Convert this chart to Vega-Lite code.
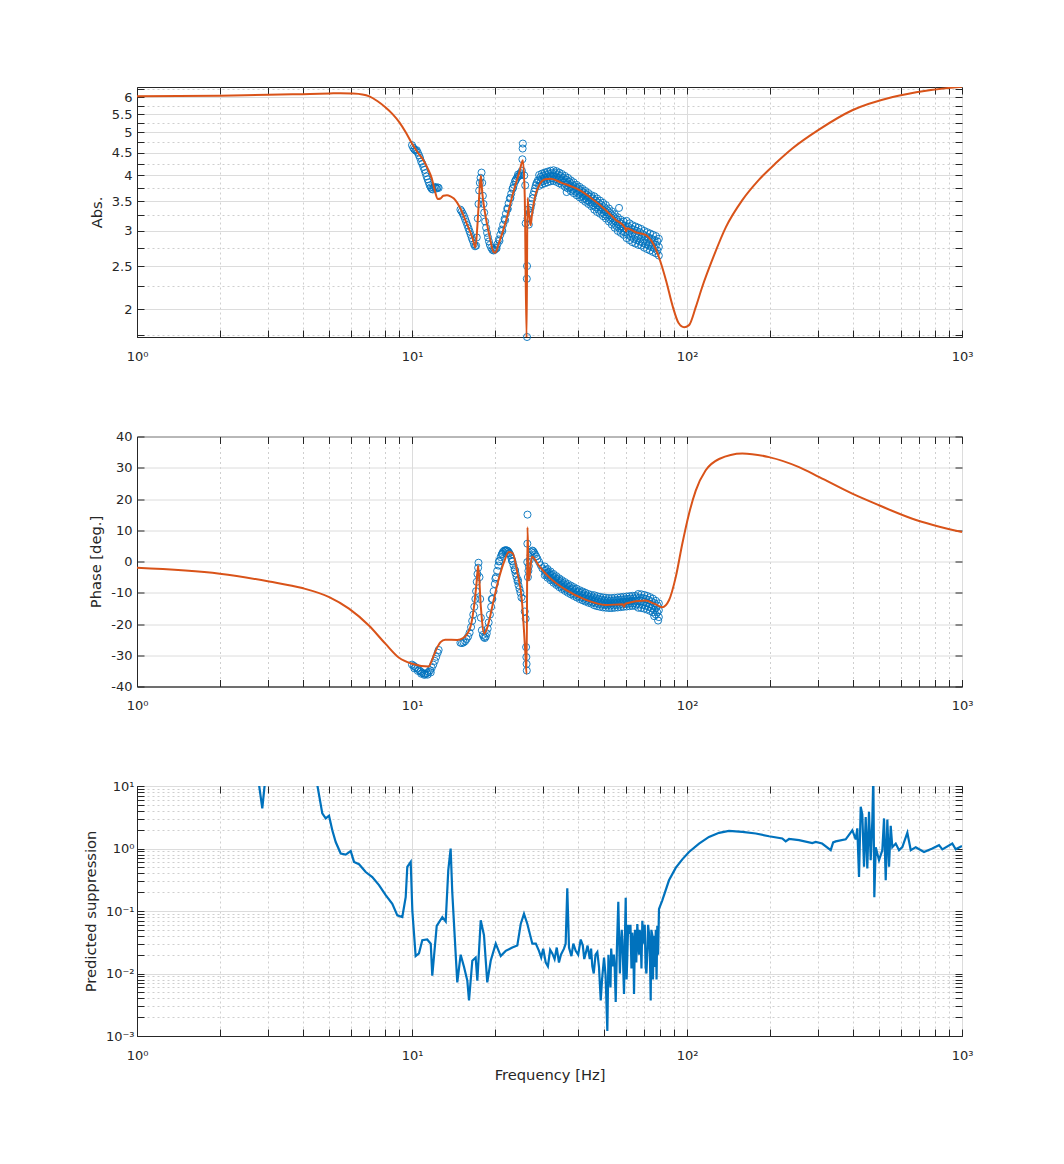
{
  "$schema": "https://vega.github.io/schema/vega-lite/v6.json",
  "padding": {"left": 82, "top": 82, "right": 10, "bottom": 10},
  "bounds": "flush",
  "spacing": 99.5,
  "config": {
    "font": "DejaVu Sans",
    "view": {"stroke": "#262626", "strokeWidth": 1},
    "axis": {
      "labelFont": "DejaVu Sans",
      "labelFontSize": 13,
      "labelColor": "#262626",
      "titleFont": "DejaVu Sans",
      "titleFontSize": 14.7,
      "titleFontWeight": "normal",
      "titleColor": "#262626",
      "domainColor": "#262626",
      "tickColor": "#262626",
      "tickSize": -7,
      "tickWidth": 1,
      "labelOverlap": false,
      "labelFlush": false
    }
  },
  "datasets": {
    "fitMag": [
      {"f":1,"v":6.03},{"f":2,"v":6.05},{"f":3,"v":6.08},{"f":4,"v":6.1},{"f":5,"v":6.12},{"f":5.5,"v":6.13},{"f":6,"v":6.12},{"f":6.6,"v":6.09},{"f":7,"v":6.03},{"f":7.5,"v":5.88},{"f":8,"v":5.7},{"f":8.5,"v":5.5},{"f":9,"v":5.27},{"f":9.5,"v":5.0},{"f":10,"v":4.72},{"f":10.5,"v":4.5},{"f":10.9,"v":4.37},{"f":11.4,"v":4.15},{"f":11.8,"v":3.94},{"f":12.1,"v":3.7},{"f":12.4,"v":3.54},{"f":12.7,"v":3.55},{"f":13.0,"v":3.6},{"f":13.4,"v":3.61},{"f":13.8,"v":3.59},{"f":14.2,"v":3.55},{"f":15.0,"v":3.37},{"f":15.9,"v":3.09},{"f":16.6,"v":2.89},{"f":17.0,"v":2.75},{"f":17.3,"v":3.1},{"f":17.5,"v":3.49},{"f":17.8,"v":4.0},{"f":18.0,"v":3.67},{"f":18.4,"v":3.31},{"f":19.1,"v":2.94},{"f":19.8,"v":2.69},{"f":20.1,"v":2.68},{"f":20.6,"v":2.79},{"f":21.9,"v":3.14},{"f":23.2,"v":3.61},{"f":24.6,"v":4.08},{"f":25.3,"v":4.33},{"f":25.7,"v":3.6},{"f":26.1,"v":1.72},{"f":26.3,"v":3.56},{"f":26.6,"v":3.3},{"f":27.0,"v":3.09},{"f":27.3,"v":3.26},{"f":28.1,"v":3.61},{"f":29.0,"v":3.8},{"f":30.5,"v":3.92},{"f":32,"v":3.93},{"f":35,"v":3.85},{"f":40.5,"v":3.71},{"f":45,"v":3.55},{"f":50.7,"v":3.34},{"f":55,"v":3.18},{"f":59.5,"v":3.05},{"f":60,"v":2.99},{"f":60.5,"v":3.04},{"f":65,"v":2.98},{"f":70.6,"v":2.94},{"f":75,"v":2.82},{"f":79,"v":2.62},{"f":83.9,"v":2.32},{"f":88.9,"v":2.02},{"f":93.2,"v":1.86},{"f":97.6,"v":1.82},{"f":101.7,"v":1.84},{"f":107.6,"v":2.02},{"f":113.5,"v":2.24},{"f":123.5,"v":2.58},{"f":138.5,"v":3.06},{"f":158.9,"v":3.52},{"f":182.5,"v":3.91},{"f":210,"v":4.26},{"f":241.5,"v":4.6},{"f":302.8,"v":5.08},{"f":399,"v":5.61},{"f":560,"v":6.01},{"f":740,"v":6.21},{"f":1000,"v":6.34}
    ],
    "measMag": [
      {"f":10.0,"v":4.68},{"f":10.1,"v":4.62},{"f":10.2,"v":4.58},{"f":10.3,"v":4.55},{"f":10.4,"v":4.56},{"f":10.5,"v":4.5},{"f":10.6,"v":4.44},{"f":10.7,"v":4.38},{"f":10.8,"v":4.3},{"f":10.9,"v":4.25},{"f":11.0,"v":4.18},{"f":11.1,"v":4.12},{"f":11.2,"v":4.05},{"f":11.3,"v":3.98},{"f":11.4,"v":3.92},{"f":11.5,"v":3.86},{"f":11.6,"v":3.8},{"f":11.7,"v":3.76},{"f":11.8,"v":3.73},{"f":11.9,"v":3.72},{"f":12.0,"v":3.75},{"f":12.1,"v":3.77},{"f":12.2,"v":3.75},{"f":12.3,"v":3.74},{"f":12.4,"v":3.76},{"f":12.5,"v":3.75},
      {"f":15.0,"v":3.35},{"f":15.15,"v":3.32},{"f":15.3,"v":3.28},{"f":15.45,"v":3.24},{"f":15.6,"v":3.19},{"f":15.75,"v":3.14},{"f":15.9,"v":3.09},{"f":16.05,"v":3.04},{"f":16.2,"v":2.99},{"f":16.35,"v":2.94},{"f":16.5,"v":2.89},{"f":16.65,"v":2.85},{"f":16.8,"v":2.8},{"f":16.95,"v":2.77},{"f":17.1,"v":2.78},{"f":17.2,"v":2.9},{"f":17.35,"v":3.2},{"f":17.45,"v":3.45},{"f":17.55,"v":3.7},{"f":17.65,"v":3.85},{"f":17.75,"v":3.95},{"f":17.9,"v":4.06},{"f":18.0,"v":3.85},{"f":18.1,"v":3.6},{"f":18.2,"v":3.45},{"f":18.3,"v":3.3},{"f":18.45,"v":3.15},{"f":18.6,"v":3.05},{"f":18.75,"v":2.97},{"f":18.9,"v":2.9},{"f":19.05,"v":2.84},{"f":19.2,"v":2.79},{"f":19.4,"v":2.75},{"f":19.6,"v":2.72},{"f":19.8,"v":2.71},{"f":20.0,"v":2.72},
      {"f":20.2,"v":2.75},{"f":20.45,"v":2.8},{"f":20.7,"v":2.87},{"f":20.95,"v":2.94},{"f":21.2,"v":3.02},{"f":21.45,"v":3.1},{"f":21.7,"v":3.19},{"f":21.95,"v":3.28},{"f":22.2,"v":3.37},{"f":22.45,"v":3.46},{"f":22.7,"v":3.55},{"f":22.95,"v":3.64},{"f":23.2,"v":3.73},{"f":23.45,"v":3.81},{"f":23.7,"v":3.88},{"f":23.95,"v":3.93},{"f":24.2,"v":3.97},{"f":24.45,"v":3.99},{"f":24.7,"v":4.0},{"f":24.95,"v":4.02},{"f":25.1,"v":4.1},{"f":25.2,"v":4.35},{"f":25.25,"v":4.6},{"f":25.3,"v":4.72},{"f":20.3,"v":2.74},{"f":20.8,"v":2.85},{"f":21.3,"v":3.0},{"f":21.8,"v":3.17},{"f":22.3,"v":3.36},{"f":22.8,"v":3.56},{"f":23.3,"v":3.75},{"f":23.8,"v":3.9},{"f":24.3,"v":4.02},{"f":24.8,"v":4.05},
      {"f":25.6,"v":4.0},{"f":25.8,"v":3.8},{"f":25.9,"v":3.12},{"f":26.2,"v":2.5},{"f":26.15,"v":2.34},{"f":26.2,"v":1.73},{"f":26.3,"v":3.2},{"f":26.4,"v":3.35},{"f":26.6,"v":3.1},{"f":26.8,"v":3.3},{"f":27.0,"v":3.38},{"f":27.2,"v":3.45},{"f":27.4,"v":3.55},{"f":27.6,"v":3.62},{"f":27.8,"v":3.68},{"f":28.0,"v":3.74},{"f":28.2,"v":3.8},{"f":28.4,"v":3.85},{"f":28.7,"v":3.9},
      {"f":29,"v":3.9},{"f":29,"v":4.01},{"f":29,"v":3.79},
      {"f":29.7,"v":3.93},{"f":29.7,"v":4.04},{"f":29.7,"v":3.82},
      {"f":30.4,"v":3.95},{"f":30.4,"v":4.06},{"f":30.4,"v":3.84},
      {"f":31.1,"v":3.97},{"f":31.1,"v":4.08},{"f":31.1,"v":3.86},
      {"f":31.9,"v":3.99},{"f":31.9,"v":4.1},{"f":31.9,"v":3.88},
      {"f":32.7,"v":4.0},{"f":32.7,"v":4.11},{"f":32.7,"v":3.89},
      {"f":33.5,"v":3.98},{"f":33.5,"v":4.09},{"f":33.5,"v":3.87},
      {"f":34.3,"v":3.95},{"f":34.3,"v":4.06},{"f":34.3,"v":3.84},
      {"f":35.1,"v":3.92},{"f":35.1,"v":4.03},{"f":35.1,"v":3.81},
      {"f":36,"v":3.88},{"f":36,"v":3.99},{"f":36,"v":3.77},
      {"f":36.9,"v":3.84},{"f":36.9,"v":3.95},{"f":36.9,"v":3.74},
      {"f":37.8,"v":3.79},{"f":37.8,"v":3.9},{"f":37.8,"v":3.69},
      {"f":38.7,"v":3.75},{"f":38.7,"v":3.86},{"f":38.7,"v":3.65},
      {"f":39.7,"v":3.71},{"f":39.7,"v":3.81},{"f":39.7,"v":3.61},
      {"f":40.7,"v":3.67},{"f":40.7,"v":3.77},{"f":40.7,"v":3.57},
      {"f":41.7,"v":3.63},{"f":41.7,"v":3.73},{"f":41.7,"v":3.53},
      {"f":42.7,"v":3.59},{"f":42.7,"v":3.69},{"f":42.7,"v":3.49},
      {"f":43.8,"v":3.55},{"f":43.8,"v":3.65},{"f":43.8,"v":3.45},
      {"f":44.9,"v":3.51},{"f":44.9,"v":3.61},{"f":44.9,"v":3.41},
      {"f":46,"v":3.47},{"f":46,"v":3.59},{"f":46,"v":3.35},
      {"f":47.1,"v":3.43},{"f":47.1,"v":3.55},{"f":47.1,"v":3.31},
      {"f":48.3,"v":3.39},{"f":48.3,"v":3.51},{"f":48.3,"v":3.28},
      {"f":49.5,"v":3.35},{"f":49.5,"v":3.47},{"f":49.5,"v":3.24},
      {"f":50.7,"v":3.31},{"f":50.7,"v":3.43},{"f":50.7,"v":3.2},
      {"f":52,"v":3.26},{"f":52,"v":3.37},{"f":52,"v":3.15},
      {"f":53.3,"v":3.21},{"f":53.3,"v":3.32},{"f":53.3,"v":3.1},
      {"f":54.6,"v":3.16},{"f":54.6,"v":3.27},{"f":54.6,"v":3.05},
      {"f":56,"v":3.11},{"f":56,"v":3.22},{"f":56,"v":3.0},
      {"f":57.4,"v":3.07},{"f":57.4,"v":3.18},{"f":57.4,"v":2.97},
      {"f":58.8,"v":3.04},{"f":58.8,"v":3.15},{"f":58.8,"v":2.94},
      {"f":60.3,"v":3.02},{"f":60.3,"v":3.16},{"f":60.3,"v":2.89},
      {"f":61.8,"v":2.99},{"f":61.8,"v":3.12},{"f":61.8,"v":2.86},
      {"f":63.3,"v":2.96},{"f":63.3,"v":3.09},{"f":63.3,"v":2.83},
      {"f":64.9,"v":2.94},{"f":64.9,"v":3.07},{"f":64.9,"v":2.81},
      {"f":66.5,"v":2.92},{"f":66.5,"v":3.05},{"f":66.5,"v":2.79},
      {"f":68.2,"v":2.9},{"f":68.2,"v":3.03},{"f":68.2,"v":2.78},
      {"f":69.9,"v":2.87},{"f":69.9,"v":3.0},{"f":69.9,"v":2.75},
      {"f":71.6,"v":2.85},{"f":71.6,"v":2.98},{"f":71.6,"v":2.73},
      {"f":73.4,"v":2.83},{"f":73.4,"v":2.96},{"f":73.4,"v":2.71},
      {"f":75.2,"v":2.81},{"f":75.2,"v":2.94},{"f":75.2,"v":2.69},
      {"f":77.1,"v":2.79},{"f":77.1,"v":2.92},{"f":77.1,"v":2.67},
      {"f":79,"v":2.76},{"f":79,"v":2.88},{"f":79,"v":2.64},
      {"f":29.35,"v":3.97},{"f":29.35,"v":3.86},{"f":30.05,"v":4.0},{"f":30.05,"v":3.89},{"f":30.75,"v":4.02},{"f":30.75,"v":3.91},{"f":31.5,"v":4.04},{"f":31.5,"v":3.93},{"f":32.3,"v":4.05},{"f":32.3,"v":3.94},{"f":33.1,"v":4.05},{"f":33.1,"v":3.93},{"f":33.9,"v":4.02},{"f":33.9,"v":3.91},{"f":34.7,"v":3.99},{"f":34.7,"v":3.88},{"f":35.55,"v":3.95},{"f":35.55,"v":3.85},{"f":36.45,"v":3.91},{"f":36.45,"v":3.81},{"f":37.35,"v":3.87},{"f":37.35,"v":3.76},{"f":38.25,"v":3.82},{"f":38.25,"v":3.72},{"f":39.2,"v":3.78},{"f":39.2,"v":3.68},{"f":40.2,"v":3.74},{"f":40.2,"v":3.64},{"f":41.2,"v":3.7},{"f":41.2,"v":3.6},{"f":42.2,"v":3.66},{"f":42.2,"v":3.56},{"f":43.25,"v":3.62},{"f":43.25,"v":3.52},{"f":44.35,"v":3.58},{"f":44.35,"v":3.48},{"f":45.45,"v":3.55},{"f":45.45,"v":3.43},{"f":46.55,"v":3.51},{"f":46.55,"v":3.39},{"f":47.7,"v":3.47},{"f":47.7,"v":3.35},{"f":48.9,"v":3.43},{"f":48.9,"v":3.31},{"f":50.1,"v":3.39},{"f":50.1,"v":3.27},{"f":51.35,"v":3.34},{"f":51.35,"v":3.23},{"f":52.65,"v":3.29},{"f":52.65,"v":3.18},{"f":53.95,"v":3.24},{"f":53.95,"v":3.13},{"f":55.3,"v":3.19},{"f":55.3,"v":3.08},{"f":56.7,"v":3.14},{"f":56.7,"v":3.04},{"f":58.1,"v":3.11},{"f":58.1,"v":3.0},{"f":59.55,"v":3.08},{"f":59.55,"v":2.98},{"f":61.05,"v":3.07},{"f":61.05,"v":2.94},{"f":62.55,"v":3.04},{"f":62.55,"v":2.91},{"f":64.1,"v":3.02},{"f":64.1,"v":2.88},{"f":65.7,"v":3.0},{"f":65.7,"v":2.86},{"f":67.35,"v":2.98},{"f":67.35,"v":2.84},{"f":69.05,"v":2.95},{"f":69.05,"v":2.82},{"f":70.75,"v":2.92},{"f":70.75,"v":2.8},{"f":72.5,"v":2.9},{"f":72.5,"v":2.78},{"f":74.3,"v":2.88},{"f":74.3,"v":2.76},{"f":76.15,"v":2.86},{"f":76.15,"v":2.74},{"f":78.05,"v":2.84},{"f":78.05,"v":2.71},
      {"f":36.5,"v":3.67},{"f":56.6,"v":3.38}
    ],
    "fitPh": [
      {"f":1,"v":-2.0},{"f":2,"v":-3.9},{"f":3.02,"v":-6.4},{"f":3.99,"v":-8.5},{"f":5.0,"v":-11.4},{"f":5.9,"v":-15.1},{"f":6.97,"v":-20.5},{"f":8.0,"v":-26.3},{"f":8.97,"v":-30.8},{"f":10,"v":-32.7},{"f":11.5,"v":-33.6},{"f":11.8,"v":-31.7},{"f":12.2,"v":-28.5},{"f":12.7,"v":-25.8},{"f":13.2,"v":-25},{"f":14.6,"v":-25.1},{"f":15.4,"v":-24.4},{"f":16.3,"v":-21},{"f":16.8,"v":-14.6},{"f":17.2,"v":-6.1},{"f":17.4,"v":-1.3},{"f":17.8,"v":-14.6},{"f":18.3,"v":-23.1},{"f":18.8,"v":-21},{"f":19.8,"v":-12.5},{"f":20.6,"v":-6.1},{"f":21.6,"v":-0.2},{"f":22.5,"v":3.0},{"f":23.2,"v":2.7},{"f":24.2,"v":-3.9},{"f":25.1,"v":-12.5},{"f":25.8,"v":-28.5},{"f":26.1,"v":-36},{"f":26.3,"v":11},{"f":26.6,"v":-6.1},{"f":27.3,"v":1.6},{"f":29,"v":-1.5},{"f":31.5,"v":-5},{"f":36.3,"v":-9.1},{"f":42.9,"v":-12.3},{"f":50.7,"v":-13.9},{"f":58.4,"v":-13.7},{"f":59,"v":-14.5},{"f":59.6,"v":-13.5},{"f":70.6,"v":-12.5},{"f":76,"v":-13.5},{"f":81.3,"v":-14.6},{"f":86,"v":-12.4},{"f":91,"v":-5.0},{"f":96.1,"v":5.6},{"f":101.7,"v":15.3},{"f":107.6,"v":22.7},{"f":116.8,"v":29.1},{"f":130.8,"v":32.8},{"f":158.9,"v":34.6},{"f":198.7,"v":33.4},{"f":255.5,"v":30.2},{"f":302.8,"v":27.0},{"f":399,"v":21.7},{"f":499,"v":18.0},{"f":660,"v":13.7},{"f":1000,"v":9.4}
    ],
    "measPh": [
      {"f":10.0,"v":-33},{"f":10.15,"v":-33.4},{"f":10.3,"v":-33.8},{"f":10.45,"v":-34.2},{"f":10.6,"v":-34.7},{"f":10.75,"v":-35.2},{"f":10.9,"v":-35.6},{"f":11.05,"v":-35.9},{"f":11.2,"v":-36},{"f":11.35,"v":-35.7},{"f":11.5,"v":-35.3},{"f":11.65,"v":-34.8},{"f":11.8,"v":-34},{"f":11.95,"v":-33},{"f":12.1,"v":-31.8},{"f":12.25,"v":-30.5},{"f":12.4,"v":-29.2},{"f":12.5,"v":-28.3},{"f":10.2,"v":-34.2},{"f":10.5,"v":-35},{"f":10.8,"v":-35.9},{"f":11.1,"v":-36.3},{"f":11.4,"v":-36.2},{"f":11.7,"v":-35.5},
      {"f":15.0,"v":-26},{"f":15.2,"v":-26.1},{"f":15.4,"v":-25.9},{"f":15.6,"v":-25.5},{"f":15.8,"v":-24.8},{"f":16.0,"v":-24},{"f":16.2,"v":-22.8},{"f":16.4,"v":-21},{"f":16.55,"v":-19},{"f":16.7,"v":-17},{"f":16.85,"v":-14.5},{"f":17.0,"v":-12},{"f":17.1,"v":-9.5},{"f":17.2,"v":-6.5},{"f":17.3,"v":-4},{"f":17.4,"v":-2},{"f":17.45,"v":-0.4},{"f":17.6,"v":-5},{"f":17.7,"v":-12},{"f":17.8,"v":-18},{"f":17.95,"v":-22},{"f":18.1,"v":-23.5},{"f":18.25,"v":-24.2},{"f":18.4,"v":-24.5},{"f":18.55,"v":-24},{"f":18.7,"v":-23},{"f":18.85,"v":-21.5},
      {"f":19.0,"v":-19.5},{"f":19.2,"v":-17},{"f":19.4,"v":-14.5},{"f":19.6,"v":-12},{"f":19.8,"v":-9.5},{"f":20.0,"v":-7.2},{"f":20.2,"v":-5},{"f":20.4,"v":-3},{"f":20.6,"v":-1.3},{"f":20.8,"v":0.2},{"f":21.0,"v":1.4},{"f":21.2,"v":2.3},{"f":21.4,"v":3},{"f":21.6,"v":3.4},{"f":21.8,"v":3.6},{"f":22.0,"v":3.6},{"f":22.2,"v":3.5},{"f":22.4,"v":3.2},{"f":22.6,"v":2.7},{"f":22.8,"v":2.0},{"f":23.0,"v":1.0},{"f":23.2,"v":0.0},{"f":23.4,"v":-1.2},{"f":23.6,"v":-2.5},{"f":23.8,"v":-3.8},{"f":24.0,"v":-5},{"f":24.2,"v":-6.3},{"f":24.4,"v":-7.6},{"f":24.6,"v":-8.8},{"f":24.8,"v":-10},{"f":25.0,"v":-11.5},{"f":19.5,"v":-12},{"f":20.1,"v":-5.5},{"f":20.7,"v":0},{"f":21.3,"v":2.5},{"f":21.9,"v":3.3},{"f":22.5,"v":2.6},{"f":23.1,"v":0.2},{"f":23.7,"v":-2.8},{"f":24.3,"v":-6},
      {"f":25.4,"v":-12},{"f":25.7,"v":-16},{"f":25.9,"v":-18.3},{"f":26.0,"v":-27.4},{"f":26.05,"v":-30.6},{"f":26.1,"v":-32.8},{"f":26.15,"v":-34.9},{"f":26.25,"v":-0.2},{"f":26.27,"v":5.7},{"f":26.3,"v":15.0},{"f":26.4,"v":-5},{"f":26.5,"v":-3},{"f":26.6,"v":-1.5},{"f":26.8,"v":0.5},{"f":27.0,"v":2.0},{"f":27.2,"v":3.0},{"f":27.4,"v":3.5},{"f":27.6,"v":3.3},{"f":27.8,"v":2.8},{"f":28.0,"v":2.3},{"f":28.3,"v":1.6},{"f":28.6,"v":0.8},{"f":29.0,"v":-0.2},{"f":29.4,"v":-1.2},{"f":29.8,"v":-2.2},
      {"f":30.4,"v":-3.0},{"f":30.4,"v":-1.6},{"f":30.4,"v":-4.4},
      {"f":31.1,"v":-3.8},{"f":31.1,"v":-2.4},{"f":31.1,"v":-5.2},
      {"f":31.9,"v":-4.6},{"f":31.9,"v":-3.2},{"f":31.9,"v":-6.0},
      {"f":32.7,"v":-5.4},{"f":32.7,"v":-4.0},{"f":32.7,"v":-6.8},
      {"f":33.5,"v":-6.1},{"f":33.5,"v":-4.7},{"f":33.5,"v":-7.5},
      {"f":34.3,"v":-6.8},{"f":34.3,"v":-5.4},{"f":34.3,"v":-8.2},
      {"f":35.1,"v":-7.4},{"f":35.1,"v":-6.0},{"f":35.1,"v":-8.8},
      {"f":36,"v":-8.0},{"f":36,"v":-6.6},{"f":36,"v":-9.4},
      {"f":36.9,"v":-8.6},{"f":36.9,"v":-7.2},{"f":36.9,"v":-10.0},
      {"f":37.8,"v":-9.1},{"f":37.8,"v":-7.7},{"f":37.8,"v":-10.5},
      {"f":38.7,"v":-9.6},{"f":38.7,"v":-8.2},{"f":38.7,"v":-11.0},
      {"f":39.7,"v":-10.1},{"f":39.7,"v":-8.7},{"f":39.7,"v":-11.5},
      {"f":40.7,"v":-10.6},{"f":40.7,"v":-9.2},{"f":40.7,"v":-12.0},
      {"f":41.7,"v":-11.0},{"f":41.7,"v":-9.6},{"f":41.7,"v":-12.4},
      {"f":42.7,"v":-11.4},{"f":42.7,"v":-10.0},{"f":42.7,"v":-12.8},
      {"f":43.8,"v":-11.8},{"f":43.8,"v":-10.4},{"f":43.8,"v":-13.2},
      {"f":44.9,"v":-12.1},{"f":44.9,"v":-10.7},{"f":44.9,"v":-13.5},
      {"f":46,"v":-12.4},{"f":46,"v":-10.8},{"f":46,"v":-14.0},
      {"f":47.1,"v":-12.7},{"f":47.1,"v":-11.1},{"f":47.1,"v":-14.3},
      {"f":48.3,"v":-12.9},{"f":48.3,"v":-11.3},{"f":48.3,"v":-14.5},
      {"f":49.5,"v":-13.1},{"f":49.5,"v":-11.5},{"f":49.5,"v":-14.7},
      {"f":50.7,"v":-13.2},{"f":50.7,"v":-11.6},{"f":50.7,"v":-14.8},
      {"f":52,"v":-13.3},{"f":52,"v":-11.7},{"f":52,"v":-14.9},
      {"f":53.3,"v":-13.3},{"f":53.3,"v":-11.7},{"f":53.3,"v":-14.9},
      {"f":54.6,"v":-13.2},{"f":54.6,"v":-11.6},{"f":54.6,"v":-14.8},
      {"f":56,"v":-13.1},{"f":56,"v":-11.5},{"f":56,"v":-14.7},
      {"f":57.4,"v":-13.0},{"f":57.4,"v":-11.4},{"f":57.4,"v":-14.6},
      {"f":58.8,"v":-12.9},{"f":58.8,"v":-11.3},{"f":58.8,"v":-14.5},
      {"f":60.3,"v":-12.8},{"f":60.3,"v":-11.2},{"f":60.3,"v":-14.4},
      {"f":61.8,"v":-12.7},{"f":61.8,"v":-11.1},{"f":61.8,"v":-14.3},
      {"f":63.3,"v":-12.6},{"f":63.3,"v":-11.0},{"f":63.3,"v":-14.2},
      {"f":64.9,"v":-12.6},{"f":64.9,"v":-11.0},{"f":64.9,"v":-14.2},
      {"f":66.5,"v":-12.6},{"f":66.5,"v":-10.4},{"f":66.5,"v":-14.8},
      {"f":68.2,"v":-12.7},{"f":68.2,"v":-10.5},{"f":68.2,"v":-14.9},
      {"f":69.9,"v":-12.9},{"f":69.9,"v":-10.7},{"f":69.9,"v":-15.1},
      {"f":71.6,"v":-13.2},{"f":71.6,"v":-11.0},{"f":71.6,"v":-15.4},
      {"f":73.4,"v":-13.6},{"f":73.4,"v":-11.4},{"f":73.4,"v":-15.8},
      {"f":75.2,"v":-14.1},{"f":75.2,"v":-11.9},{"f":75.2,"v":-16.3},
      {"f":77.1,"v":-14.8},{"f":77.1,"v":-12.6},{"f":77.1,"v":-17.0},
      {"f":79,"v":-15.6},{"f":79,"v":-13.4},{"f":79,"v":-17.8},
      {"f":30.75,"v":-2.7},{"f":30.75,"v":-4.1},{"f":31.5,"v":-3.5},{"f":31.5,"v":-4.9},{"f":32.3,"v":-4.3},{"f":32.3,"v":-5.7},{"f":33.1,"v":-5.05},{"f":33.1,"v":-6.45},{"f":33.9,"v":-5.75},{"f":33.9,"v":-7.15},{"f":34.7,"v":-6.4},{"f":34.7,"v":-7.8},{"f":35.55,"v":-7.0},{"f":35.55,"v":-8.4},{"f":36.45,"v":-7.6},{"f":36.45,"v":-9.0},{"f":37.35,"v":-8.15},{"f":37.35,"v":-9.55},{"f":38.25,"v":-8.65},{"f":38.25,"v":-10.05},{"f":39.2,"v":-9.15},{"f":39.2,"v":-10.55},{"f":40.2,"v":-9.65},{"f":40.2,"v":-11.05},{"f":41.2,"v":-10.1},{"f":41.2,"v":-11.5},{"f":42.2,"v":-10.5},{"f":42.2,"v":-11.9},{"f":43.25,"v":-10.9},{"f":43.25,"v":-12.3},{"f":44.35,"v":-11.25},{"f":44.35,"v":-12.65},{"f":45.45,"v":-11.45},{"f":45.45,"v":-13.05},{"f":46.55,"v":-11.75},{"f":46.55,"v":-13.35},{"f":47.7,"v":-12.0},{"f":47.7,"v":-13.6},{"f":48.9,"v":-12.2},{"f":48.9,"v":-13.8},{"f":50.1,"v":-12.35},{"f":50.1,"v":-13.95},{"f":51.35,"v":-12.45},{"f":51.35,"v":-14.05},{"f":52.65,"v":-12.5},{"f":52.65,"v":-14.1},{"f":53.95,"v":-12.45},{"f":53.95,"v":-14.05},{"f":55.3,"v":-12.35},{"f":55.3,"v":-13.95},{"f":56.7,"v":-12.25},{"f":56.7,"v":-13.85},{"f":58.1,"v":-12.15},{"f":58.1,"v":-13.75},{"f":59.55,"v":-12.05},{"f":59.55,"v":-13.65},{"f":61.05,"v":-11.95},{"f":61.05,"v":-13.55},{"f":62.55,"v":-11.85},{"f":62.55,"v":-13.45},{"f":64.1,"v":-11.8},{"f":64.1,"v":-13.4},{"f":65.7,"v":-11.5},{"f":65.7,"v":-13.7},{"f":67.35,"v":-11.55},{"f":67.35,"v":-13.75},{"f":69.05,"v":-11.7},{"f":69.05,"v":-13.9},{"f":70.75,"v":-11.95},{"f":70.75,"v":-14.15},{"f":72.5,"v":-12.3},{"f":72.5,"v":-14.5},{"f":74.3,"v":-12.75},{"f":74.3,"v":-14.95},{"f":76.15,"v":-13.35},{"f":76.15,"v":-15.55},{"f":78.05,"v":-14.1},{"f":78.05,"v":-16.3},
      {"f":78.5,"v":-18.9},{"f":76,"v":-17.5}
    ],
    "supp": [
      {"f":2.7,"v":20},{"f":2.778,"v":10.5},{"f":2.855,"v":4.4},{"f":2.913,"v":10.5},{"f":3.0,"v":25},{"f":3.5,"v":40},{"f":4.0,"v":30},{"f":4.4,"v":15},{"f":4.525,"v":10.4},{"f":4.718,"v":3.64},{"f":4.856,"v":3.03},{"f":4.992,"v":3.34},{"f":5.131,"v":1.96},{"f":5.279,"v":1.27},{"f":5.505,"v":0.83},{"f":5.741,"v":0.8},{"f":5.986,"v":0.91},{"f":6.154,"v":0.61},{"f":6.418,"v":0.56},{"f":6.786,"v":0.42},{"f":7.171,"v":0.35},{"f":7.586,"v":0.26},{"f":8.024,"v":0.18},{"f":8.48,"v":0.13},{"f":8.843,"v":0.085},{"f":9.22,"v":0.08},{"f":9.486,"v":0.166},{"f":9.614,"v":0.51},{"f":9.892,"v":0.61},{"f":10.03,"v":0.1},{"f":10.31,"v":0.019},{"f":10.6,"v":0.021},{"f":10.9,"v":0.034},{"f":11.36,"v":0.035},{"f":11.7,"v":0.03},{"f":11.85,"v":0.0092},{"f":12.3,"v":0.058},{"f":12.89,"v":0.08},{"f":13.26,"v":0.068},{"f":13.55,"v":0.45},{"f":13.82,"v":1.0},{"f":14.01,"v":0.2},{"f":14.41,"v":0.021},{"f":14.61,"v":0.0072},{"f":15.03,"v":0.02},{"f":15.46,"v":0.0127},{"f":15.89,"v":0.0077},{"f":16.12,"v":0.0037},{"f":16.57,"v":0.016},{"f":17.04,"v":0.018},{"f":17.28,"v":0.0077},{"f":17.78,"v":0.071},{"f":18.27,"v":0.041},{"f":18.78,"v":0.0072},{"f":19.33,"v":0.016},{"f":20.16,"v":0.03},{"f":21.02,"v":0.019},{"f":21.91,"v":0.023},{"f":23.16,"v":0.026},{"f":24.15,"v":0.028},{"f":24.85,"v":0.062},{"f":25.54,"v":0.09},{"f":26.27,"v":0.062},{"f":27.39,"v":0.03},{"f":28.2,"v":0.03},{"f":28.95,"v":0.023},{"f":29.5,"v":0.018},{"f":30.0,"v":0.025},{"f":30.63,"v":0.015},{"f":31.2,"v":0.013},{"f":31.8,"v":0.024},{"f":32.37,"v":0.021},{"f":33.0,"v":0.017},{"f":33.6,"v":0.026},{"f":34.23,"v":0.015},{"f":34.8,"v":0.02},{"f":35.7,"v":0.025},{"f":36.2,"v":0.03},{"f":36.7,"v":0.23},{"f":37.23,"v":0.026},{"f":38.0,"v":0.019},{"f":38.6,"v":0.03},{"f":39.38,"v":0.023},{"f":40.2,"v":0.02},{"f":41.07,"v":0.035},{"f":41.8,"v":0.028},{"f":42.3,"v":0.017},{"f":42.82,"v":0.021},{"f":43.5,"v":0.028},{"f":44.3,"v":0.017},{"f":44.8,"v":0.025},{"f":45.26,"v":0.013},{"f":45.8,"v":0.01},{"f":46.5,"v":0.02},{"f":47.2,"v":0.022},{"f":47.86,"v":0.0127},{"f":48.56,"v":0.0037},{"f":49.1,"v":0.008},{"f":49.92,"v":0.018},{"f":50.6,"v":0.009},{"f":51.32,"v":0.0012},{"f":51.8,"v":0.02},{"f":52.05,"v":0.0127},{"f":52.7,"v":0.006},{"f":53.0,"v":0.025},{"f":53.51,"v":0.013},{"f":54.2,"v":0.02},{"f":54.6,"v":0.012},{"f":55.05,"v":0.0035},{"f":55.6,"v":0.025},{"f":56.26,"v":0.14},{"f":57.0,"v":0.01},{"f":57.41,"v":0.026},{"f":57.9,"v":0.05},{"f":58.2,"v":0.035},{"f":59.02,"v":0.0047},{"f":59.4,"v":0.03},{"f":59.86,"v":0.163},{"f":60.3,"v":0.008},{"f":60.7,"v":0.02},{"f":61.1,"v":0.06},{"f":61.54,"v":0.043},{"f":62.3,"v":0.06},{"f":62.8,"v":0.012},{"f":63.26,"v":0.045},{"f":63.8,"v":0.03},{"f":64.17,"v":0.0047},{"f":64.7,"v":0.05},{"f":65.4,"v":0.015},{"f":65.96,"v":0.062},{"f":66.9,"v":0.02},{"f":67.3,"v":0.05},{"f":67.86,"v":0.034},{"f":68.3,"v":0.012},{"f":68.8,"v":0.07},{"f":69.3,"v":0.03},{"f":69.76,"v":0.055},{"f":70.2,"v":0.06},{"f":70.7,"v":0.013},{"f":71.2,"v":0.01},{"f":71.71,"v":0.021},{"f":72.2,"v":0.06},{"f":72.7,"v":0.045},{"f":73.3,"v":0.02},{"f":73.79,"v":0.0037},{"f":74.2,"v":0.05},{"f":74.78,"v":0.041},{"f":75.2,"v":0.008},{"f":75.6,"v":0.03},{"f":76.0,"v":0.04},{"f":76.48,"v":0.0127},{"f":77.0,"v":0.05},{"f":77.5,"v":0.008},{"f":77.98,"v":0.058},{"f":78.5,"v":0.02},{"f":79.1,"v":0.108},{"f":81.32,"v":0.148},{"f":86.0,"v":0.31},{"f":90.97,"v":0.49},{"f":96.14,"v":0.67},{"f":101.7,"v":0.88},{"f":110.6,"v":1.2},{"f":120.2,"v":1.53},{"f":130.8,"v":1.78},{"f":142.1,"v":1.91},{"f":158.9,"v":1.85},{"f":177.8,"v":1.74},{"f":198.7,"v":1.57},{"f":222.1,"v":1.45},{"f":228.5,"v":1.3},{"f":235,"v":1.42},{"f":255.5,"v":1.36},{"f":285.5,"v":1.22},{"f":293.8,"v":1.27},{"f":310,"v":1.2},{"f":333.1,"v":0.94},{"f":340,"v":1.25},{"f":347.4,"v":1.3},{"f":377.7,"v":1.4},{"f":399.2,"v":1.96},{"f":410.7,"v":1.4},{"f":416.2,"v":2.1},{"f":422.2,"v":0.35},{"f":428.2,"v":4.65},{"f":434.0,"v":3.5},{"f":440.2,"v":0.51},{"f":446.5,"v":3.2},{"f":452.5,"v":0.48},{"f":459.0,"v":3.86},{"f":465.6,"v":0.65},{"f":471.9,"v":2.8},{"f":475.9,"v":15},{"f":479.9,"v":0.166},{"f":485.6,"v":1.05},{"f":499.2,"v":0.65},{"f":513.2,"v":0.94},{"f":520.6,"v":3.03},{"f":528.0,"v":0.31},{"f":535.2,"v":2.9},{"f":542.8,"v":0.51},{"f":550.6,"v":2.3},{"f":558.0,"v":1.05},{"f":574.2,"v":1.2},{"f":590.3,"v":0.94},{"f":606.8,"v":1.05},{"f":632.8,"v":1.79},{"f":651.1,"v":0.94},{"f":678.8,"v":1.05},{"f":727.6,"v":0.88},{"f":779.8,"v":1.0},{"f":825.0,"v":1.13},{"f":848.1,"v":0.97},{"f":921.9,"v":1.2},{"f":948.6,"v":0.97},{"f":1000,"v":1.1}
    ]
  },
  "vconcat": [
    {
      "width": 825,
      "height": 250,
      "layer": [
        {
          "data": {"name": "measMag"},
          "mark": {"type": "point", "shape": "circle", "filled": false, "color": "#0072BD", "size": 50, "strokeWidth": 0.9, "opacity": 1},
          "encoding": {
            "x": {
              "field": "f", "type": "quantitative",
              "scale": {"type": "log", "domain": [1, 1000], "nice": false},
              "axis": {
                "orient": "bottom", "title": null,
                "values": [1,2,3,4,5,6,7,8,9,10,20,30,40,50,60,70,80,90,100,200,300,400,500,600,700,800,900,1000],
                "labelExpr": "datum.value == 1 ? '10⁰' : datum.value == 10 ? '10¹' : datum.value == 100 ? '10²' : datum.value == 1000 ? '10³' : ''",
                "labelPadding": 20,
                "grid": true,
                "gridColor": {"condition": {"test": "indexof([1,10,100,1000], datum.value) >= 0", "value": "#dcdcdc"}, "value": "#cfcfcf"},
                "gridDash": {"condition": {"test": "indexof([1,10,100,1000], datum.value) >= 0", "value": []}, "value": [2, 3]}
              }
            },
            "y": {
              "field": "v", "type": "quantitative",
              "scale": {"type": "log", "domain": [1.73, 6.33], "nice": false},
              "axis": {
                "title": "Abs.",
                "values": [1.75,2,2.25,2.5,2.75,3,3.25,3.5,3.75,4,4.25,4.5,4.75,5,5.25,5.5,5.75,6,6.25],
                "labelExpr": "datum.value % 0.5 == 0 ? '' + datum.value : ''",
                "labelPadding": 12,
                "titlePadding": 7,
                "grid": true,
                "gridColor": {"condition": {"test": "datum.value % 0.5 == 0", "value": "#dcdcdc"}, "value": "#cfcfcf"},
                "gridDash": {"condition": {"test": "datum.value % 0.5 == 0", "value": []}, "value": [2, 3]}
              }
            }
          }
        },
        {
          "data": {"name": "fitMag"},
          "mark": {"type": "line", "color": "#D95319", "strokeWidth": 2, "clip": true, "interpolate": "monotone"},
          "encoding": {
            "x": {"field": "f", "type": "quantitative", "scale": {"type": "log"}, "axis": null},
            "y": {"field": "v", "type": "quantitative", "scale": {"type": "log"}, "axis": null}
          }
        },
        {
          "data": {"name": "fitMag"},
          "mark": {"type": "point", "opacity": 0},
          "encoding": {
            "x": {
              "field": "f", "type": "quantitative", "scale": {"type": "log"},
              "axis": {"orient": "top", "title": null, "labels": false, "grid": false, "domain": false,
                "values": [1,2,3,4,5,6,7,8,9,10,20,30,40,50,60,70,80,90,100,200,300,400,500,600,700,800,900,1000]}
            },
            "y": {
              "field": "v", "type": "quantitative", "scale": {"type": "log"},
              "axis": {"orient": "right", "title": null, "labels": false, "grid": false, "domain": false,
                "values": [1.75,2,2.25,2.5,2.75,3,3.25,3.5,3.75,4,4.25,4.5,4.75,5,5.25,5.5,5.75,6,6.25]}
            }
          }
        }
      ],
      "resolve": {"axis": {"x": "independent", "y": "independent"}}
    },
    {
      "width": 825,
      "height": 250,
      "layer": [
        {
          "data": {"name": "measPh"},
          "mark": {"type": "point", "shape": "circle", "filled": false, "color": "#0072BD", "size": 50, "strokeWidth": 0.9, "opacity": 1},
          "encoding": {
            "x": {
              "field": "f", "type": "quantitative",
              "scale": {"type": "log", "domain": [1, 1000], "nice": false},
              "axis": {
                "orient": "bottom", "title": null,
                "values": [1,2,3,4,5,6,7,8,9,10,20,30,40,50,60,70,80,90,100,200,300,400,500,600,700,800,900,1000],
                "labelExpr": "datum.value == 1 ? '10⁰' : datum.value == 10 ? '10¹' : datum.value == 100 ? '10²' : datum.value == 1000 ? '10³' : ''",
                "labelPadding": 20,
                "grid": true,
                "gridColor": {"condition": {"test": "indexof([1,10,100,1000], datum.value) >= 0", "value": "#dcdcdc"}, "value": "#cfcfcf"},
                "gridDash": {"condition": {"test": "indexof([1,10,100,1000], datum.value) >= 0", "value": []}, "value": [2, 3]}
              }
            },
            "y": {
              "field": "v", "type": "quantitative",
              "scale": {"domain": [-40, 40], "nice": false, "zero": false},
              "axis": {
                "title": "Phase [deg.]",
                "values": [-40,-30,-20,-10,0,10,20,30,40],
                "labelExpr": "'' + datum.value",
                "labelPadding": 12,
                "titlePadding": 7,
                "grid": true,
                "gridColor": "#dcdcdc"
              }
            }
          }
        },
        {
          "data": {"name": "fitPh"},
          "mark": {"type": "line", "color": "#D95319", "strokeWidth": 2, "clip": true, "interpolate": "monotone"},
          "encoding": {
            "x": {"field": "f", "type": "quantitative", "scale": {"type": "log"}, "axis": null},
            "y": {"field": "v", "type": "quantitative", "axis": null}
          }
        },
        {
          "data": {"name": "fitPh"},
          "mark": {"type": "point", "opacity": 0},
          "encoding": {
            "x": {
              "field": "f", "type": "quantitative", "scale": {"type": "log"},
              "axis": {"orient": "top", "title": null, "labels": false, "grid": false, "domain": false,
                "values": [1,2,3,4,5,6,7,8,9,10,20,30,40,50,60,70,80,90,100,200,300,400,500,600,700,800,900,1000]}
            },
            "y": {
              "field": "v", "type": "quantitative",
              "axis": {"orient": "right", "title": null, "labels": false, "grid": false, "domain": false,
                "values": [-40,-30,-20,-10,0,10,20,30,40]}
            }
          }
        }
      ],
      "resolve": {"axis": {"x": "independent", "y": "independent"}}
    },
    {
      "width": 825,
      "height": 250,
      "layer": [
        {
          "data": {"name": "supp"},
          "mark": {"type": "line", "color": "#0072BD", "strokeWidth": 2.2, "clip": true},
          "encoding": {
            "x": {
              "field": "f", "type": "quantitative",
              "scale": {"type": "log", "domain": [1, 1000], "nice": false},
              "axis": {
                "orient": "bottom", "title": "Frequency [Hz]", "titlePadding": 5,
                "values": [1,2,3,4,5,6,7,8,9,10,20,30,40,50,60,70,80,90,100,200,300,400,500,600,700,800,900,1000],
                "labelExpr": "datum.value == 1 ? '10⁰' : datum.value == 10 ? '10¹' : datum.value == 100 ? '10²' : datum.value == 1000 ? '10³' : ''",
                "labelPadding": 20,
                "grid": true,
                "gridColor": {"condition": {"test": "indexof([1,10,100,1000], datum.value) >= 0", "value": "#dcdcdc"}, "value": "#cfcfcf"},
                "gridDash": {"condition": {"test": "indexof([1,10,100,1000], datum.value) >= 0", "value": []}, "value": [2, 3]}
              }
            },
            "y": {
              "field": "v", "type": "quantitative",
              "scale": {"type": "log", "domain": [0.001, 10], "nice": false},
              "axis": {
                "title": "Predicted suppression",
                "values": [0.001,0.002,0.003,0.004,0.005,0.006,0.007,0.008,0.009,0.01,0.02,0.03,0.04,0.05,0.06,0.07,0.08,0.09,0.1,0.2,0.3,0.4,0.5,0.6,0.7,0.8,0.9,1,2,3,4,5,6,7,8,9,10],
                "labelExpr": "datum.value == 10 ? '10¹' : datum.value == 1 ? '10⁰' : datum.value == 0.1 ? '10⁻¹' : datum.value == 0.01 ? '10⁻²' : datum.value == 0.001 ? '10⁻³' : ''",
                "labelPadding": 10,
                "titlePadding": 7,
                "grid": true,
                "gridColor": {"condition": {"test": "indexof([0.001,0.01,0.1,1,10], datum.value) >= 0", "value": "#dcdcdc"}, "value": "#cfcfcf"},
                "gridDash": {"condition": {"test": "indexof([0.001,0.01,0.1,1,10], datum.value) >= 0", "value": []}, "value": [2, 3]}
              }
            }
          }
        },
        {
          "data": {"name": "supp"},
          "mark": {"type": "point", "opacity": 0},
          "encoding": {
            "x": {
              "field": "f", "type": "quantitative", "scale": {"type": "log"},
              "axis": {"orient": "top", "title": null, "labels": false, "grid": false, "domain": false,
                "values": [1,2,3,4,5,6,7,8,9,10,20,30,40,50,60,70,80,90,100,200,300,400,500,600,700,800,900,1000]}
            },
            "y": {
              "field": "v", "type": "quantitative", "scale": {"type": "log"},
              "axis": {"orient": "right", "title": null, "labels": false, "grid": false, "domain": false,
                "values": [0.001,0.002,0.003,0.004,0.005,0.006,0.007,0.008,0.009,0.01,0.02,0.03,0.04,0.05,0.06,0.07,0.08,0.09,0.1,0.2,0.3,0.4,0.5,0.6,0.7,0.8,0.9,1,2,3,4,5,6,7,8,9,10]}
            }
          }
        }
      ],
      "resolve": {"axis": {"x": "independent", "y": "independent"}}
    }
  ]
}
